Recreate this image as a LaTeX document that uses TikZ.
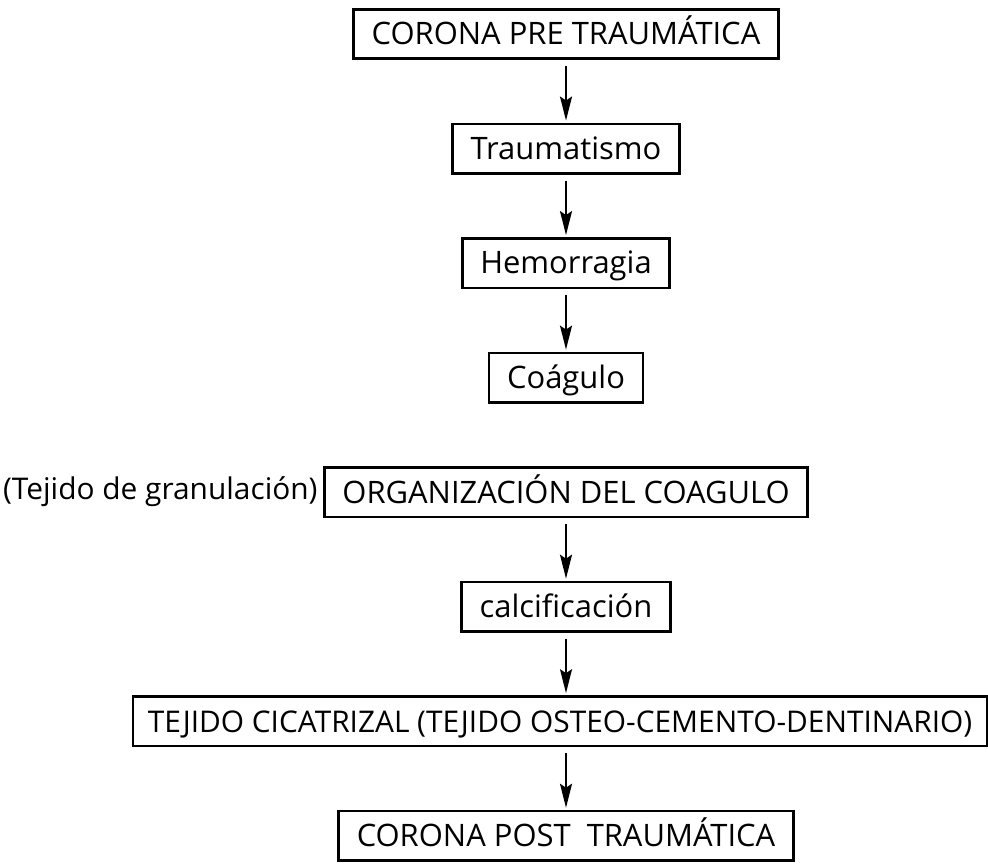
\documentclass[tikz,border=0pt]{standalone}
\usepackage{fontspec}
\setmainfont{Open Sans}
\usetikzlibrary{positioning,arrows.meta}

\tikzset{
  paso/.style={draw, line width=1.9pt, inner xsep=13.5pt, minimum height=37.1pt,
    text height=17.5pt, text depth=1.2pt, font=\fontsize{23.2}{27}\selectfont},
  paso largo/.style={paso, inner xsep=11pt, font=\fontsize{22.4}{26}\selectfont},
  flecha/.style={-{Stealth[length=18pt,width=9pt,inset=3pt]}, line width=1.5pt,
    shorten <=4.5pt, shorten >=1.5pt},
}

\begin{document}
\begin{tikzpicture}[x=0.75pt, y=-0.75pt, node distance=46.9pt]
    \useasboundingbox (0,0) rectangle (988,864);

    \node [paso] (pre) at (566,34) {CORONA PRE TRAUMÁTICA};
    \node [paso, below=of pre] (traumatismo) {Traumatismo};
    \node [paso, below=of traumatismo] (hemorragia) {Hemorragia};
    \node [paso, below=of hemorragia] (coagulo) {Coágulo};

    \node [paso, below=of coagulo] (organizacion) {ORGANIZACIÓN DEL COAGULO};
    \node [left=4pt of organizacion, inner sep=0pt, font=\fontsize{22.4}{26}\selectfont] (granulacion) {(Tejido de granulación)};
    \node [paso, below=of organizacion] (calcificacion) {calcificación};
    \node [paso largo, below=of calcificacion, xshift=-4.5pt] (cicatrizal) {TEJIDO CICATRIZAL (TEJIDO OSTEO-CEMENTO-DENTINARIO)};
    \node [paso, below=of cicatrizal, xshift=4.5pt] (post) {CORONA POST~~TRAUMÁTICA};

    \draw [flecha] (pre) -- (traumatismo);
    \draw [flecha] (traumatismo) -- (hemorragia);
    \draw [flecha] (hemorragia) -- (coagulo);
    \draw [flecha] (organizacion) -- (calcificacion);
    \draw [flecha] (calcificacion) -- (calcificacion |- cicatrizal.north);
    \draw [flecha] (cicatrizal.south -| post) -- (post);
\end{tikzpicture}
\end{document}
